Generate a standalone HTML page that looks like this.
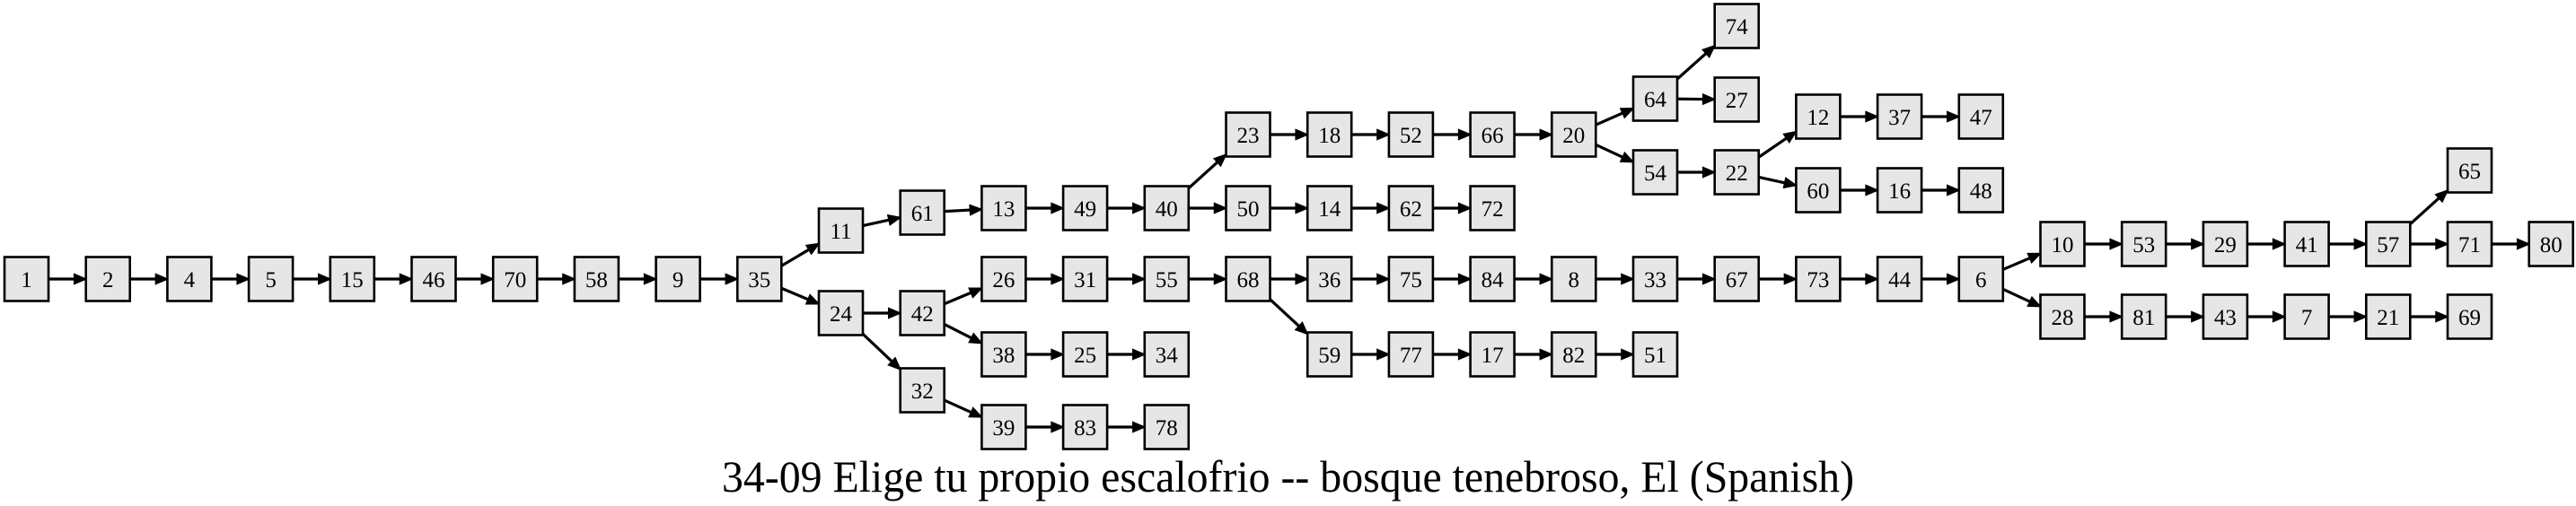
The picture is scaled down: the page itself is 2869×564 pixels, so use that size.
<!DOCTYPE html>
<html><head><meta charset="utf-8"><style>html,body{margin:0;padding:0;background:#fff}svg{display:block}</style></head>
<body>
<svg id="s" width="2869" height="564" viewBox="0 0 2869 564" xmlns="http://www.w3.org/2000/svg">
<g id="edges"></g>
<g id="boxes"></g>
<g font-family="'Liberation Serif', serif" font-size="25" text-anchor="middle" fill="#000">
<text x="29.5" y="320">1</text>
<text x="120.2" y="320">2</text>
<text x="210.9" y="320">4</text>
<text x="301.6" y="320">5</text>
<text x="392.3" y="320">15</text>
<text x="483" y="320">46</text>
<text x="573.7" y="320">70</text>
<text x="664.4" y="320">58</text>
<text x="755.1" y="320">9</text>
<text x="845.8" y="320">35</text>
<text x="936.5" y="266">11</text>
<text x="936.5" y="358">24</text>
<text x="1027.2" y="246">61</text>
<text x="1027.2" y="358">42</text>
<text x="1027.2" y="444">32</text>
<text x="1117.9" y="241">13</text>
<text x="1117.9" y="320">26</text>
<text x="1117.9" y="404">38</text>
<text x="1117.9" y="485">39</text>
<text x="1208.6" y="241">49</text>
<text x="1208.6" y="320">31</text>
<text x="1208.6" y="404">25</text>
<text x="1208.6" y="485">83</text>
<text x="1299.3" y="241">40</text>
<text x="1299.3" y="320">55</text>
<text x="1299.3" y="404">34</text>
<text x="1299.3" y="485">78</text>
<text x="1390" y="159">23</text>
<text x="1390" y="241">50</text>
<text x="1390" y="320">68</text>
<text x="1480.7" y="159">18</text>
<text x="1480.7" y="241">14</text>
<text x="1480.7" y="320">36</text>
<text x="1480.7" y="404">59</text>
<text x="1571.4" y="159">52</text>
<text x="1571.4" y="241">62</text>
<text x="1571.4" y="320">75</text>
<text x="1571.4" y="404">77</text>
<text x="1662.1" y="159">66</text>
<text x="1662.1" y="241">72</text>
<text x="1662.1" y="320">84</text>
<text x="1662.1" y="404">17</text>
<text x="1752.8" y="159">20</text>
<text x="1752.8" y="320">8</text>
<text x="1752.8" y="404">82</text>
<text x="1843.5" y="119">64</text>
<text x="1843.5" y="201">54</text>
<text x="1843.5" y="320">33</text>
<text x="1843.5" y="404">51</text>
<text x="1934.2" y="38">74</text>
<text x="1934.2" y="120">27</text>
<text x="1934.2" y="201">22</text>
<text x="1934.2" y="320">67</text>
<text x="2024.9" y="139">12</text>
<text x="2024.9" y="221">60</text>
<text x="2024.9" y="320">73</text>
<text x="2115.6" y="139">37</text>
<text x="2115.6" y="221">16</text>
<text x="2115.6" y="320">44</text>
<text x="2206.3" y="139">47</text>
<text x="2206.3" y="221">48</text>
<text x="2206.3" y="320">6</text>
<text x="2297" y="281">10</text>
<text x="2297" y="362">28</text>
<text x="2387.7" y="281">53</text>
<text x="2387.7" y="362">81</text>
<text x="2478.4" y="281">29</text>
<text x="2478.4" y="362">43</text>
<text x="2569.1" y="281">41</text>
<text x="2569.1" y="362">7</text>
<text x="2659.8" y="281">57</text>
<text x="2659.8" y="362">21</text>
<text x="2750.5" y="199">65</text>
<text x="2750.5" y="281">71</text>
<text x="2750.5" y="362">69</text>
<text x="2841.2" y="281">80</text>
</g>
<text x="804" y="548" font-family="'Liberation Serif', serif" font-size="50" textLength="1261" lengthAdjust="spacingAndGlyphs">34-09 Elige tu propio escalofrio -- bosque tenebroso, El (Spanish)</text>
</svg>
<script>
var N={},W=49,H=49;
function n(l,c,y){N[l]=[29.5+90.7*c,y];}
[["1",0,311],["2",1,311],["4",2,311],["5",3,311],["15",4,311],["46",5,311],["70",6,311],["58",7,311],["9",8,311],["35",9,311],
["11",10,257],["24",10,349],["61",11,237],["42",11,349],["32",11,435],
["13",12,232],["26",12,311],["38",12,395],["39",12,476],
["49",13,232],["31",13,311],["25",13,395],["83",13,476],
["40",14,232],["55",14,311],["34",14,395],["78",14,476],
["23",15,150],["50",15,232],["68",15,311],
["18",16,150],["14",16,232],["36",16,311],["59",16,395],
["52",17,150],["62",17,232],["75",17,311],["77",17,395],
["66",18,150],["72",18,232],["84",18,311],["17",18,395],
["20",19,150],["8",19,311],["82",19,395],
["64",20,110],["54",20,192],["33",20,311],["51",20,395],
["74",21,29],["27",21,111],["22",21,192],["67",21,311],
["12",22,130],["60",22,212],["73",22,311],
["37",23,130],["16",23,212],["44",23,311],
["47",24,130],["48",24,212],["6",24,311],
["10",25,272],["28",25,353],["53",26,272],["81",26,353],["29",27,272],["43",27,353],
["41",28,272],["7",28,353],["57",29,272],["21",29,353],["65",30,190],["71",30,272],["69",30,353],["80",31,272]
].forEach(function(a){n(a[0],a[1],a[2]);});
var chains=["1 2 4 5 15 46 70 58 9 35","35 11 61 13 49 40 23 18 52 66 20 64 74","64 27","20 54 22 12 37 47","22 60 16 48","40 50 14 62 72",
"35 24 42 26 31 55 68 36 75 84 8 33 67 73 44 6 10 53 29 41 57 65","57 71 80","6 28 81 43 7 21 69","42 38 25 34","68 59 77 17 82 51","24 32 39 83 78"];
var ns="http://www.w3.org/2000/svg",eg=document.getElementById("edges"),bg=document.getElementById("boxes");
function el(t,a,p){var e=document.createElementNS(ns,t);for(var k in a)e.setAttribute(k,a[k]);p.appendChild(e);}
function clip(c,dx,dy){var tx=dx?(W/2)/Math.abs(dx):1e9,ty=dy?(H/2)/Math.abs(dy):1e9;var t=Math.min(tx,ty);return [c[0]+dx*t,c[1]+dy*t];}
chains.forEach(function(ch){var p=ch.split(" ");for(var i=0;i<p.length-1;i++){var a=N[p[i]],b=N[p[i+1]];var dx=b[0]-a[0],dy=b[1]-a[1];
var s=clip(a,dx,dy),e=clip(b,-dx,-dy);var L=Math.hypot(e[0]-s[0],e[1]-s[1]),ux=(e[0]-s[0])/L,uy=(e[1]-s[1])/L;
var bx=e[0]-ux*13,by=e[1]-uy*13;
el("line",{x1:s[0],y1:s[1],x2:bx,y2:by,stroke:"#000","stroke-width":3.2},eg);
el("polygon",{points:e[0]+","+e[1]+" "+(bx-uy*5.5)+","+(by+ux*5.5)+" "+(bx+uy*5.5)+","+(by-ux*5.5),fill:"#000",stroke:"#000","stroke-width":1.5},eg);}});
for(var k in N){el("rect",{x:N[k][0]-W/2,y:N[k][1]-H/2,width:W,height:H,fill:"#e6e6e6",stroke:"#000","stroke-width":2.6},bg);}
</script>
</body></html>
